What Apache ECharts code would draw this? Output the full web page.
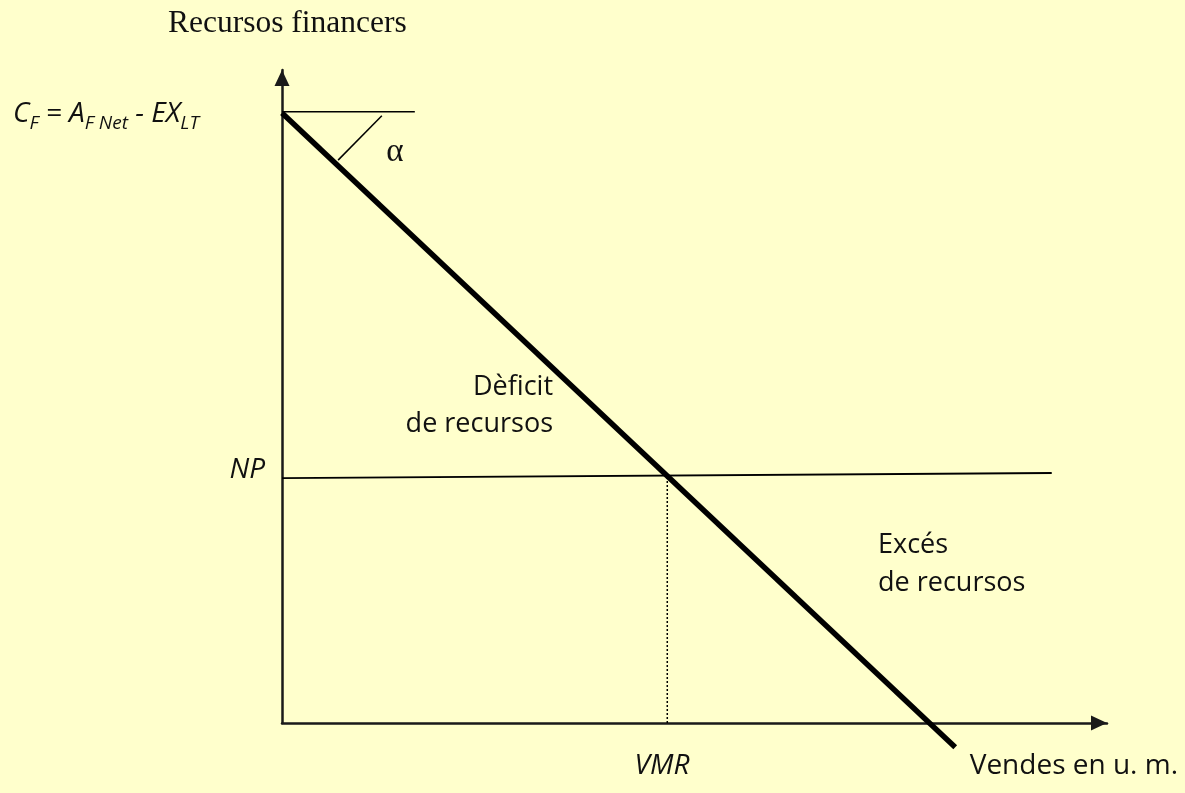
<!DOCTYPE html>
<html>
<head>
<meta charset="utf-8">
<script src="https://cdn.jsdelivr.net/npm/echarts@6/dist/echarts.min.js"></script>
<style>
html,body{margin:0;padding:0;background:#FFFFCC;}
#chart{width:1185px;height:793px;}
</style>
</head>
<body>
<div id="chart"></div>
<script>
// Schematic values (arbitrary units: x = sales, y = financial resources)
const xRange = [0, 100];
const yRange = [0, 100];
const resourceLine = [[0, 93.4], [81.6, -3.7]];      // C_F decreasing line
const cfLevel = [[0, 93.6], [16.1, 93.6]];           // horizontal reference at C_F
const alphaMark = [[12.1, 93.0], [6.8, 86.2]];       // angle marker
const npLine = [[0, 37.5], [93.3, 38.3]];            // NP level
const vmrLine = [[46.7, 0], [46.7, 37.9]];           // VMR dotted drop line

const chart = echarts.init(document.getElementById('chart'), null, {renderer: 'canvas'});
const sans = '"Open Sans", "Noto Sans", sans-serif';
const serif = '"Liberation Serif", "DejaVu Serif", serif';

function seg(data, width, type, z) {
  return {
    type: 'line', data: data, symbol: 'none', clip: false, silent: true, z: z || 2,
    lineStyle: {color: '#000', width: width, type: type || 'solid', cap: 'butt'},
    animation: false
  };
}

const axisCommon = {
  axisLine: {show: true, lineStyle: {color: '#1a1a1a', width: 2.5}, symbol: ['none', 'triangle'], symbolSize: [15, 16], symbolOffset: [0, -8]},
  axisTick: {show: false}, axisLabel: {show: false}, splitLine: {show: false}
};

chart.setOption({
  backgroundColor: '#FFFFCC',
  animation: false,
  grid: {left: 282, right: 78, top: 70, bottom: 70},
  xAxis: Object.assign({type: 'value', min: xRange[0], max: xRange[1]}, axisCommon),
  yAxis: Object.assign({type: 'value', min: yRange[0], max: yRange[1]}, axisCommon),
  series: [
    seg(resourceLine, 5.5, 'solid', 5),
    seg(cfLevel, 1.5),
    seg(alphaMark, 1.5),
    seg(npLine, 2),
    seg(vmrLine, 1.5, [2, 2])
  ],
  graphic: [
    {type: 'text', x: 168, y: 24, style: {text: 'Recursos financers', font: '31.5px ' + serif, fill: '#111', verticalAlign: 'middle'}},
    {type: 'text', x: 13, y: 117, style: {
      text: '{m|C}{s|F}{m| = A}{s|F Net}{m| - EX}{s|LT}',
      verticalAlign: 'middle',
      rich: {
        m: {font: 'italic 28px ' + sans, fill: '#111', lineHeight: 33, verticalAlign: 'top'},
        s: {font: 'italic 19px ' + sans, fill: '#111', lineHeight: 33, verticalAlign: 'bottom'}
      }
    }},
    {type: 'text', x: 395, y: 152, style: {text: 'α', font: '33px ' + serif, fill: '#111', align: 'center', verticalAlign: 'middle'}},
    {type: 'text', x: 553, y: 387, style: {text: 'Dèficit', font: '27px ' + sans, fill: '#111', align: 'right', verticalAlign: 'middle'}},
    {type: 'text', x: 553, y: 424, style: {text: 'de recursos', font: '27px ' + sans, fill: '#111', align: 'right', verticalAlign: 'middle'}},
    {type: 'text', x: 878, y: 545, style: {text: 'Excés', font: '27px ' + sans, fill: '#111', align: 'left', verticalAlign: 'middle'}},
    {type: 'text', x: 878, y: 583, style: {text: 'de recursos', font: '27px ' + sans, fill: '#111', align: 'left', verticalAlign: 'middle'}},
    {type: 'text', x: 265, y: 470, style: {text: 'NP', font: 'italic 28px ' + sans, fill: '#111', align: 'right', verticalAlign: 'middle'}},
    {type: 'text', x: 662, y: 766, style: {text: 'VMR', font: 'italic 28px ' + sans, fill: '#111', align: 'center', verticalAlign: 'middle'}},
    {type: 'text', x: 1178, y: 766, style: {text: 'Vendes en u. m.', font: '28px ' + sans, fill: '#111', align: 'right', verticalAlign: 'middle'}}
  ]
});
</script>
</body>
</html>
